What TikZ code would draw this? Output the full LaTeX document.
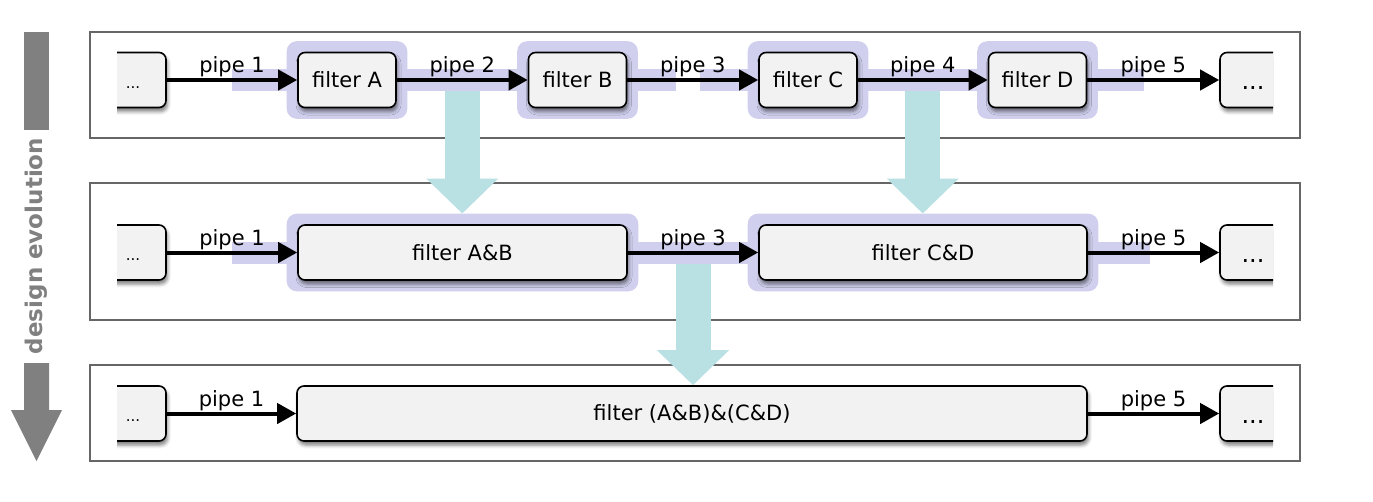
\documentclass[tikz,border=0pt]{standalone}
\usepackage{fontspec}
\setmainfont{DejaVu Sans}
\usetikzlibrary{arrows.meta,shadows.blur,fit,backgrounds,calc}

\definecolor{hlpurple}{RGB}{208,208,238}
\definecolor{evoteal}{RGB}{185,224,226}
\definecolor{framegray}{RGB}{102,102,102}
\definecolor{evogray}{RGB}{128,128,128}
\definecolor{boxfill}{RGB}{242,242,242}

\tikzset{
  filterbox/.style={draw, line width=1.6pt, rounded corners=7pt, fill=boxfill,
    minimum height=55pt, inner sep=0pt,
    blur shadow={shadow xshift=1.5pt, shadow yshift=-4pt, shadow blur radius=3.5pt, shadow opacity=50}},
  dotsbox/.style={filterbox, minimum width=66pt, text depth=0pt},
  pipe/.style={line width=4pt, -{Triangle[length=19pt,width=20pt]}},
  pipelabel/.style={midway, above, inner sep=1pt},
  highlight/.style={fill=hlpurple, rounded corners=10pt, inner sep=10.5pt},
  evo/.style={line width=35pt, draw=evoteal, -{Triangle[length=35pt,width=70pt]}},
  rowframe/.style={draw=framegray, line width=1.5pt},
}

\begin{document}
\begin{tikzpicture}[x=1pt, y=-1pt, font=\fontsize{21}{25}\selectfont]
  \useasboundingbox (0,0) rectangle (1373,501);

  % row frames
  \draw[rowframe] (90,32) rectangle (1300,138);
  \draw[rowframe] (90,183) rectangle (1300,320);
  \draw[rowframe] (90,365) rectangle (1300,461);

  % design evolution arrow
  \fill[evogray] (24,32) rectangle (49,130);
  \node[rotate=90, text=evogray, font=\fontsize{23}{27}\selectfont\bfseries] (evolabel) at (36.5,246) {design evolution};
  \fill[evogray] (24,363) -- (49,363) -- (49,410) -- (62,410) -- (36.5,461) -- (11,410) -- (24,410) -- cycle;

  % open ends
  \begin{scope}
    \clip (117,0) rectangle (220,501);
    \foreach \r/\y in {1/80, 2/252.5, 3/413.5}
      \node[dotsbox, text height=16pt, font=\fontsize{15}{18}\selectfont] (dotsL\r) at (133,\y) {...};
  \end{scope}
  \begin{scope}
    \clip (1180,0) rectangle (1273,501);
    \foreach \r/\y in {1/80, 2/252.5, 3/413.5}
      \node[dotsbox, text height=19pt, font=\fontsize{24}{28}\selectfont] (dotsR\r) at (1253,\y) {...};
  \end{scope}

  % filters
  \foreach \n/\x in {A/347, B/577.5, C/808, D/1037.5}
    \node[filterbox, minimum width=98pt] (f\n) at (\x,80) {filter \n};
  \node[filterbox, minimum width=329pt] (fAB) at (462.5,252.5) {filter A\&B};
  \node[filterbox, minimum width=328pt] (fCD) at (923,252.5) {filter C\&D};
  \node[filterbox, minimum width=790pt] (fABCD) at (692,413.5) {filter (A\&B)\&(C\&D)};

  % highlighted parts
  \begin{pgfonlayer}{background}
    \fill[hlpurple] (232,69) rectangle (676,91);
    \fill[hlpurple] (700,69) rectangle (1144,91);
    \fill[hlpurple] (232,241.5) rectangle (1150,263.5);
    \foreach \n in {A,B,C,D,AB,CD}
      \node[highlight, fit=(f\n)] (hl\n) {};
  \end{pgfonlayer}

  % pipes
  \draw[pipe] (dotsL1) -- node[pipelabel] {pipe 1} (fA);
  \draw[pipe] (fA) -- node[pipelabel] {pipe 2} (fB);
  \draw[pipe] (fB) -- node[pipelabel] {pipe 3} (fC);
  \draw[pipe] (fC) -- node[pipelabel] {pipe 4} (fD);
  \draw[pipe] (fD) -- node[pipelabel] {pipe 5} (dotsR1);

  \draw[pipe] (dotsL2) -- node[pipelabel] {pipe 1} (fAB);
  \draw[pipe] (fAB) -- node[pipelabel] {pipe 3} (fCD);
  \draw[pipe] (fCD) -- node[pipelabel] {pipe 5} (dotsR2);

  \draw[pipe] (dotsL3) -- node[pipelabel] {pipe 1} (fABCD);
  \draw[pipe] (fABCD) -- node[pipelabel] {pipe 5} (dotsR3);

  % merge steps
  \coordinate (mAB) at ($(fA.east)!.5!(fB.west)$);
  \coordinate (mCD) at ($(fC.east)!.5!(fD.west)$);
  \coordinate (mABCD) at ($(fAB.east)!.5!(fCD.west)$);
  \draw[evo] (mAB |- 0,91) -- (mAB |- hlAB.north);
  \draw[evo] (mCD |- 0,91) -- (mCD |- hlCD.north);
  \draw[evo] (mABCD |- 0,263.5) -- (mABCD |- fABCD.north);
\end{tikzpicture}
\end{document}
